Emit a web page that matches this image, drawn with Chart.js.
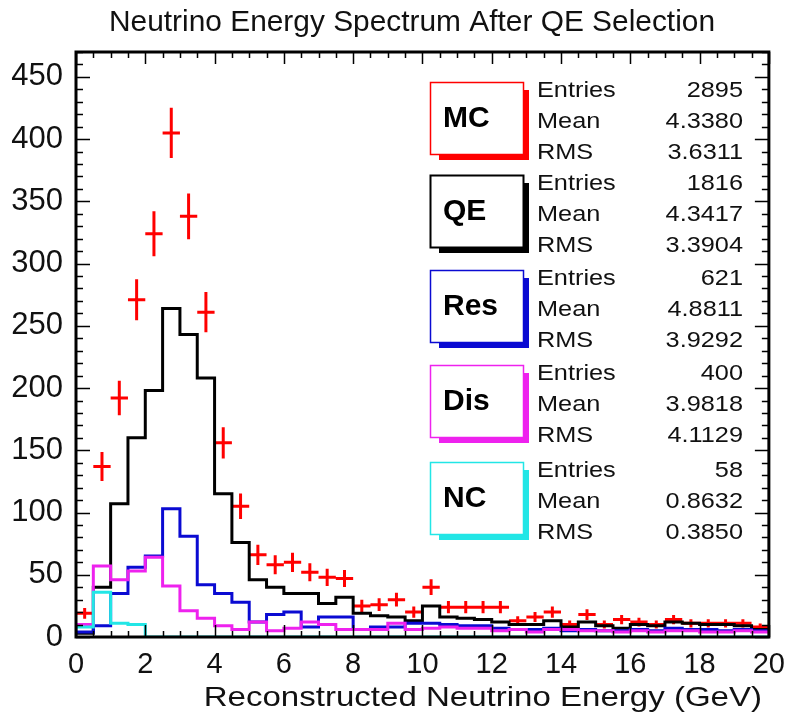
<!DOCTYPE html>
<html>
<head>
<meta charset="utf-8">
<script src="https://cdn.jsdelivr.net/npm/chart.js@4/dist/chart.umd.min.js"></script>
<style>
  html, body { margin: 0; padding: 0; background: #ffffff; }
  #wrap { width: 796px; height: 724px; position: relative; }
</style>
</head>
<body>
<div id="wrap"><canvas id="c" width="796" height="724"></canvas></div>
<script>
// ---- Data (bin left edges in GeV, 0.5 GeV bins) ----
const binEdges = [0,0.5,1,1.5,2,2.5,3,3.5,4,4.5,5,5.5,6,6.5,7,7.5,8,8.5,9,9.5,
                  10,10.5,11,11.5,12,12.5,13,13.5,14,14.5,15,15.5,16,16.5,17,17.5,18,18.5,19,19.5,20];

const mcValues  = [19,137,192,271,324,405,338,261,156,105,66,58,60,52,48,47,25,26,30,20,
                   40,24,24,24,24,13,16,20,10,18,10,14,12,10,14,11,11,11,11,8];
const qeValues  = [3,40,107,160,198,264,243,208,115,76,46,40,35,35,27,32,19,17,16,13,
                   25,16,15,14,12,10,10,13,8,12,9,7,10,9,12,11,10,10,9,6];
const resValues = [4,9,35,56,65,103,81,42,35,28,12,18,20,8,16,16,6,8,8,11,
                   11,10,9,9,7,6,6,7,5,6,5,5,6,5,7,6,6,5,6,5];
const disValues = [10,57,46,53,64,41,21,15,9,6,12,5,7,12,10,6,6,6,11,6,
                   7,8,7,7,5,6,4,6,6,5,5,4,5,4,5,5,4,4,5,4];
const ncValues  = [8,36,11,10,0,0,0,0,0,0,0,0,0,0,0,0,0,0,0,0,
                   0,0,0,0,0,0,0,0,0,0,0,0,0,0,0,0,0,0,0,0];

const statNames   = ["MC","QE","Res","Dis","NC"];
const statEntries = ["2895","1816","621","400","58"];
const statMeans   = ["4.3380","4.3417","4.8811","3.9818","0.8632"];
const statRMS     = ["3.6311","3.3904","3.9292","4.1129","0.3850"];

const titleText  = "Neutrino Energy Spectrum After QE Selection";
const xTitleText = "Reconstructed Neutrino Energy (GeV)";

// ---- Colours ----
const colRed = "#ff0000", colBlack = "#000000", colBlue = "#0a0ad2",
      colMag = "#ee22ee", colCyan = "#22e6e6";
const statColors = [colRed, colBlack, colBlue, colMag, colCyan];
const FONT = "'Liberation Sans', Arial, sans-serif";

// step histogram points: value held from each left edge to next edge
function histPoints(vals) {
  const pts = vals.map((v, i) => ({x: binEdges[i], y: v}));
  pts.push({x: binEdges[vals.length], y: vals[vals.length - 1]});
  return pts;
}
// error crosses (horizontal bin width, vertical sqrt(N))
function crossPoints(vals) {
  const pts = [];
  vals.forEach((v, i) => {
    const a = binEdges[i], b = binEdges[i + 1], c = (a + b) / 2, e = Math.sqrt(v);
    pts.push({x: a, y: v}, {x: b, y: v}, {x: b, y: null});
    pts.push({x: c, y: v - e}, {x: c, y: v + e}, {x: c, y: null});
  });
  return pts;
}

const histDs = (label, vals, color, order) => ({
  label, data: histPoints(vals), borderColor: color, borderWidth: 3,
  stepped: 'before', pointRadius: 0, fill: false, tension: 0, order
});

function scaledText(ctx, txt, x, y, sx, align) {
  ctx.save();
  ctx.translate(x, y); ctx.scale(sx, 1);
  ctx.textAlign = align; ctx.fillText(txt, 0, 0);
  ctx.restore();
}

const framePlugin = {
  id: 'frameTicks',
  afterDatasetsDraw(chart) {
    const {ctx, chartArea: a, scales: {x, y}} = chart;
    ctx.save();
    ctx.strokeStyle = "#000"; ctx.lineWidth = 1.5;
    ctx.beginPath();
    for (let v = 0; v <= 470; v += 10) {
      const py = Math.round(y.getPixelForValue(v)) + 0.5;
      const len = (v % 50 === 0) ? 14 : 7;
      ctx.moveTo(a.left, py); ctx.lineTo(a.left + len, py);
      ctx.moveTo(a.right, py); ctx.lineTo(a.right - len, py);
    }
    for (let v = 0; v <= 20; v += 0.5) {
      const px = Math.round(x.getPixelForValue(v)) + 0.5;
      const len = (v % 2 === 0) ? 12 : 6;
      ctx.moveTo(px, a.bottom); ctx.lineTo(px, a.bottom - len);
      ctx.moveTo(px, a.top); ctx.lineTo(px, a.top + len);
    }
    ctx.stroke();
    ctx.lineWidth = 3;
    ctx.strokeRect(a.left, a.top, a.right - a.left, a.bottom - a.top);
    ctx.restore();
  },
  afterDraw(chart) {
    const ctx = chart.ctx;
    ctx.save();
    ctx.fillStyle = "#111";
    ctx.textBaseline = "alphabetic";
    // title
    ctx.font = "29px " + FONT;
    scaledText(ctx, titleText, 412, 31, 1.03, "center");
    // x-axis title
    ctx.font = "28px " + FONT;
    scaledText(ctx, xTitleText, 762, 706, 1.18, "right");

    // stat boxes
    const tops = [82, 175, 270, 365, 462];
    const bx = 430, bw = 93, bh = 72;
    statNames.forEach((name, i) => {
      const by = tops[i], col = statColors[i];
      ctx.fillStyle = col;
      ctx.fillRect(bx + 9, by + 8, bw - 3, bh - 2);
      ctx.fillStyle = "#fff";
      ctx.fillRect(bx, by, bw, bh);
      ctx.strokeStyle = col;
      ctx.lineWidth = (i === 1) ? 2 : 1.5;
      ctx.strokeRect(bx + 0.5, by + 0.5, bw, bh);
      ctx.fillStyle = "#000";
      ctx.font = "bold 30px " + FONT;
      ctx.textAlign = "left"; ctx.textBaseline = "middle";
      ctx.fillText(name, bx + 13, by + bh / 2 + 1);

      const base = by + 15;
      const rows = [["Entries", statEntries[i]], ["Mean", statMeans[i]], ["RMS", statRMS[i]]];
      ctx.font = "22px " + FONT;
      ctx.textBaseline = "alphabetic";
      ctx.fillStyle = "#111";
      rows.forEach((r, k) => {
        const yy = base + k * 31;
        scaledText(ctx, r[0], 537, yy, 1.15, "left");
        scaledText(ctx, r[1], 743, yy, 1.15, "right");
      });
    });
    ctx.restore();
  }
};

new Chart(document.getElementById('c'), {
  type: 'line',
  data: {
    datasets: [
      histDs('NC', ncValues, colCyan, 1),
      histDs('Dis', disValues, colMag, 2),
      histDs('Res', resValues, colBlue, 3),
      histDs('QE', qeValues, colBlack, 4),
      { label: 'MC', data: crossPoints(mcValues), borderColor: colRed, borderWidth: 3,
        pointRadius: 0, spanGaps: false, fill: false, tension: 0, order: 5 }
    ]
  },
  options: {
    responsive: false,
    animation: false,
    events: [],
    layout: { padding: { top: 52, right: 23, left: 0, bottom: 0 } },
    plugins: { legend: { display: false }, tooltip: { enabled: false }, title: { display: false } },
    scales: {
      x: {
        type: 'linear', min: 0, max: 20,
        afterFit: s => { s.height = 87; },
        grid: { display: false, drawTicks: false },
        border: { display: false },
        ticks: { stepSize: 2, padding: 11, color: "#111",
                 font: { size: 29, family: FONT } },
        title: { display: false }
      },
      y: {
        min: 0, max: 470,
        afterFit: s => { s.width = 76; },
        grid: { display: false, drawTicks: false },
        border: { display: false },
        ticks: { stepSize: 50, includeBounds: false, padding: 13, color: "#111",
                 font: { size: 31, family: FONT } }
      }
    }
  },
  plugins: [framePlugin]
});
</script>
</body>
</html>
